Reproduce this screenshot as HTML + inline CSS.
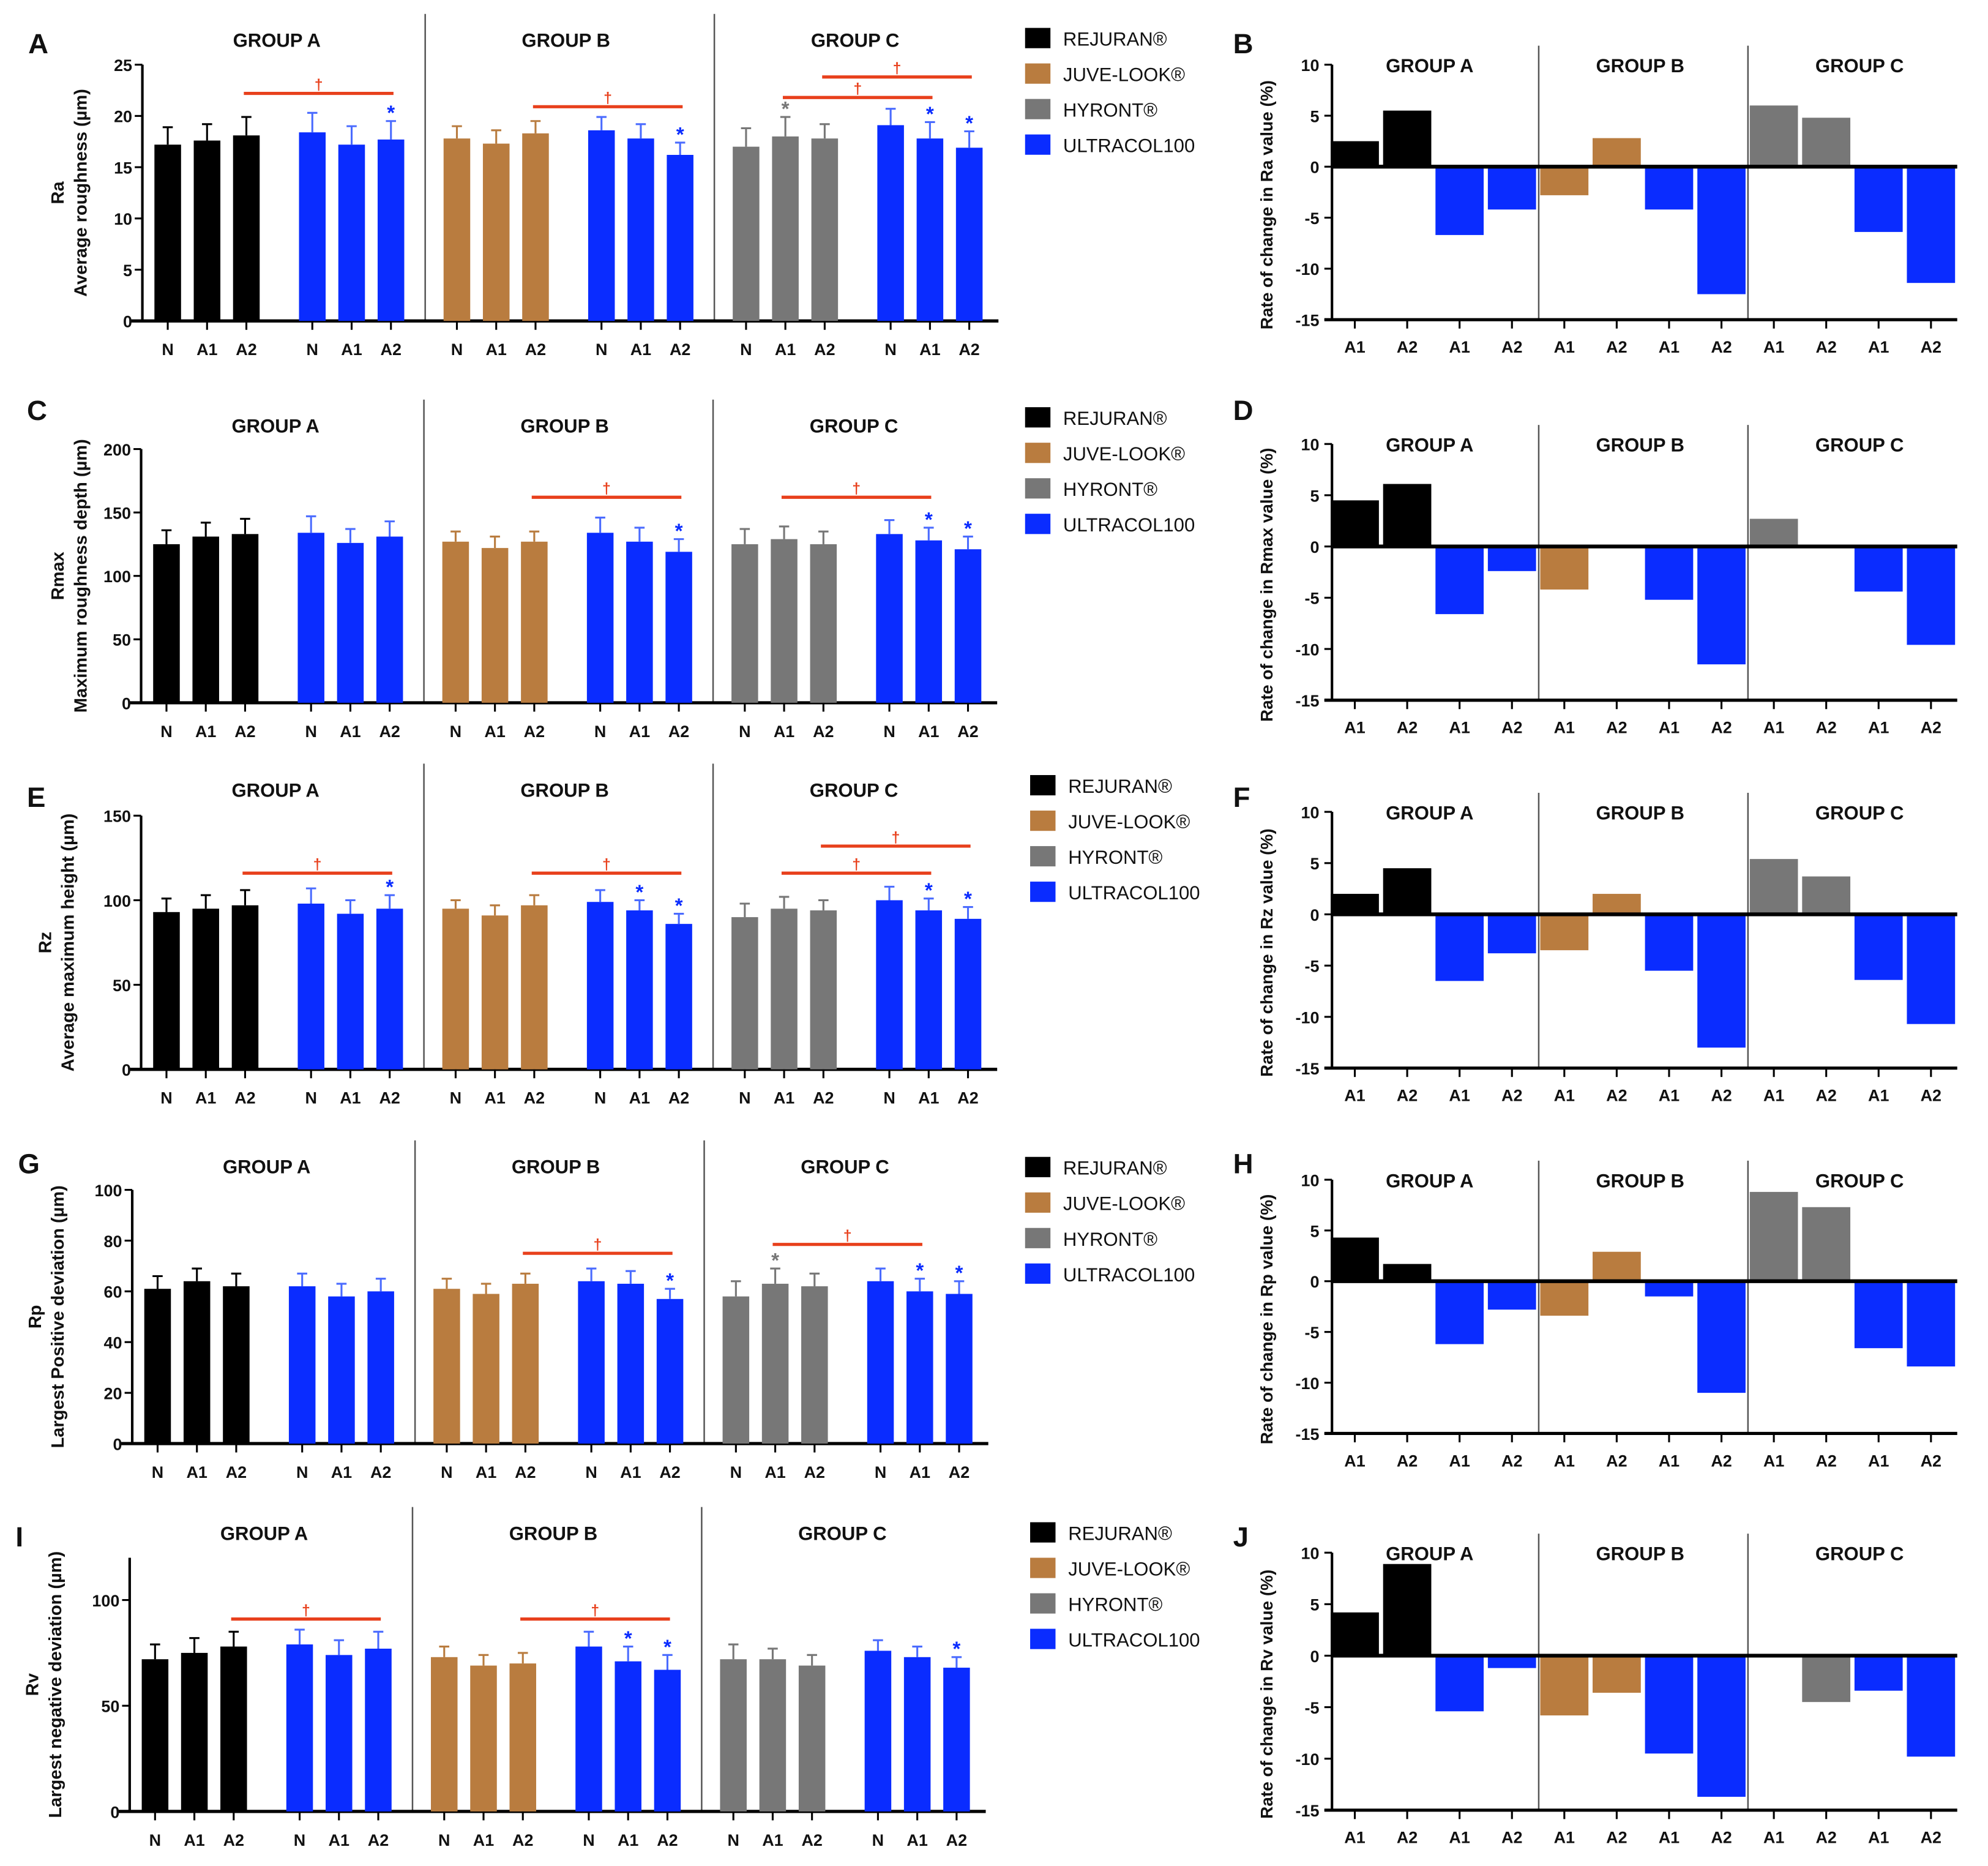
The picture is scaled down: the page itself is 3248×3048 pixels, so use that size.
<!DOCTYPE html>
<html><head><meta charset="utf-8"><style>
html,body{margin:0;padding:0;background:#fff}
svg{display:block}
text{font-family:"Liberation Sans",sans-serif;font-weight:bold;fill:#111}
</style></head><body>
<svg id="fig" width="3248" height="3048" viewBox="0 0 1567 1471" xmlns="http://www.w3.org/2000/svg"></svg>
<script>
const categories = ["N","A1","A2","N","A1","A2","N","A1","A2","N","A1","A2","N","A1","A2","N","A1","A2"];
const rateCategories = ["A1","A2","A1","A2","A1","A2","A1","A2","A1","A2","A1","A2"];
const groupNames = ["GROUP A","GROUP B","GROUP C"];
const legendLabels = ["REJURAN®","JUVE-LOOK®","HYRONT®","ULTRACOL100"];
const raValues = [17.2,17.6,18.1,18.4,17.2,17.7,17.8,17.3,18.3,18.6,17.8,16.2,17.0,18.0,17.8,19.1,17.8,16.9];
const raErrors = [1.7,1.6,1.8,1.9,1.8,1.8,1.2,1.3,1.2,1.3,1.4,1.2,1.8,1.9,1.4,1.6,1.6,1.6];
const rmaxValues = [125,131,133,134,126,131,127,122,127,134,127,119,125,129,125,133,128,121];
const rmaxErrors = [11,11,12,13,11,12,8,9,8,12,11,10,12,10,10,11,10,10];
const rzValues = [93,95,97,98,92,95,95,91,97,99,94,86,90,95,94,100,94,89];
const rzErrors = [8,8,9,9,8,8,5,6,6,7,6,6,8,7,6,8,7,7];
const rpValues = [61,64,62,62,58,60,61,59,63,64,63,57,58,63,62,64,60,59];
const rpErrors = [5,5,5,5,5,5,4,4,4,5,5,4,6,6,5,5,5,5];
const rvValues = [72,75,78,79,74,77,73,69,70,78,71,67,72,72,69,76,73,68];
const rvErrors = [7,7,7,7,7,8,5,5,5,7,7,7,7,5,5,5,5,5];
const raRate = [2.5,5.5,-6.7,-4.2,-2.8,2.8,-4.2,-12.5,6.0,4.8,-6.4,-11.4];
const rmaxRate = [4.5,6.1,-6.6,-2.4,-4.2,0,-5.2,-11.5,2.7,0,-4.4,-9.6];
const rzRate = [2.0,4.5,-6.5,-3.8,-3.5,2.0,-5.5,-13.0,5.4,3.7,-6.4,-10.7];
const rpRate = [4.3,1.7,-6.2,-2.8,-3.4,2.9,-1.5,-11.0,8.8,7.3,-6.6,-8.4];
const rvRate = [4.2,8.9,-5.4,-1.2,-5.8,-3.6,-9.5,-13.7,0,-4.5,-3.4,-9.8];
const rateTicks = [10,5,0,-5,-10,-15];

const C = {k:"#000000", br:"#b97c3f", g:"#777777", b:"#0a2cff"};
const barColors = [C.k,C.k,C.k,C.b,C.b,C.b,C.br,C.br,C.br,C.b,C.b,C.b,C.g,C.g,C.g,C.b,C.b,C.b];
const rateColors = [C.k,C.k,C.b,C.b,C.br,C.br,C.b,C.b,C.g,C.g,C.b,C.b];
const NS="http://www.w3.org/2000/svg";
const svg=document.getElementById("fig");
function el(tag,attrs,parent){const e=document.createElementNS(NS,tag);for(const k in attrs)e.setAttribute(k,attrs[k]);(parent||svg).appendChild(e);return e;}
function txt(s,x,y,size,anchor,parent,extra){const t=el("text",Object.assign({x:x,y:y,"font-size":size,"text-anchor":anchor||"middle"},extra||{}),parent);t.textContent=s;return t;}

function leftPanel(o){
  const g=el("g",{});
  
  
  const y=v=>o.y0-(v/o.max)*(o.y0-o.yTop);
  const bx=i=>o.x0+Math.floor(i/3)*114+(i%3)*31;
  const ax=o.x0-20;
  txt(o.letter,o.x0-110,o.letterY,22,"start",g);
  [o.x0+203,o.x0+431].forEach(dx=>el("line",{x1:dx,y1:o.titleY-20,x2:dx,y2:o.y0,stroke:"#555","stroke-width":1.2},g));
  groupNames.forEach((n,i)=>{const t=txt(n,o.x0+86+i*228,o.titleY+6,15,"middle",g);});
  el("line",{x1:ax,y1:o.yTop,x2:ax,y2:o.y0+1,stroke:"#000","stroke-width":2},g);
  el("line",{x1:ax-10,y1:o.y0,x2:o.x0+655,y2:o.y0,stroke:"#000","stroke-width":2.5},g);
  o.ticks.forEach(v=>{el("line",{x1:ax-6,y1:y(v),x2:ax,y2:y(v),stroke:"#000","stroke-width":1.5},g);txt(String(v),ax-8,y(v)+5,13,"end",g);});
  txt(o.t1,o.tx,(o.y0+o.yTop)/2,14,"middle",g,{transform:`rotate(-90 ${o.tx} ${(o.y0+o.yTop)/2})`});
  txt(o.t2,o.tx+18,(o.y0+o.yTop)/2,14,"middle",g,{transform:`rotate(-90 ${o.tx+18} ${(o.y0+o.yTop)/2})`});
  o.vals.forEach((v,i)=>{
    const x=bx(i),c=barColors[i],top=y(v),et=y(v+o.errs[i]);
    const r=el("rect",{x:x-10.5,y:top,width:21,height:o.y0-top,fill:c},g);
    
    
    const ec=c===C.b?"#4a6bff":c;
    el("line",{x1:x,y1:top,x2:x,y2:et,stroke:ec,"stroke-width":1.5},g);
    el("line",{x1:x-4,y1:et,x2:x+4,y2:et,stroke:ec,"stroke-width":1.5},g);
    el("line",{x1:x,y1:o.y0,x2:x,y2:o.y0+7,stroke:"#000","stroke-width":1.5},g);
    txt(categories[i],x,o.y0+27,13,"middle",g);
    if(o.stars.includes(i)){txt("*",x,et-1,16,"middle",g,{style:"fill:"+(c===C.b?C.b:"#777")});}
  });
  o.brackets.forEach(b=>{const x1=bx(b[0])-2,x2=bx(b[1])+2,by=y(b[2]);
    el("line",{x1:x1,y1:by,x2:x2,y2:by,stroke:"#e8401c","stroke-width":2.5},g);
    txt("†",(x1+x2)/2,by-3,12,"middle",g,{style:"fill:#e8401c"});});
  legendLabels.forEach((l,i)=>{const ly=o.legY+i*28;
    const r=el("rect",{x:o.legX,y:ly-8,width:20,height:16,fill:[C.k,C.br,C.g,C.b][i]},g);
    
    const t=txt(l,o.legX+30,ly+6,15,"start",g,{style:"font-weight:normal"});
    });
}
function ratePanel(o){
  const g=el("g",{});
  
  
  const y=v=>o.yTop+(10-v)/25*(o.yBot-o.yTop);
  const bx=i=>1068+i*41.3;
  txt(o.letter,972,o.letterY,22,"start",g);
  [1213,1378].forEach(dx=>el("line",{x1:dx,y1:o.yTop-15,x2:dx,y2:o.yBot,stroke:"#555","stroke-width":1.2},g));
  [1127,1293,1466].forEach((x,i)=>{const t=txt(groupNames[i],x,o.yTop+6,15,"middle",g);});
  o.vals.forEach((v,i)=>{const x=bx(i),y0=y(0),yv=y(v);
    const r=el("rect",{x:x-19,y:Math.min(y0,yv),width:38,height:Math.abs(yv-y0),fill:rateColors[i]},g);
    
    
    el("line",{x1:x,y1:o.yBot,x2:x,y2:o.yBot+7,stroke:"#000","stroke-width":1.5},g);
    txt(rateCategories[i],x,o.yBot+26,13,"middle",g);});
  el("line",{x1:1050,y1:o.yTop,x2:1050,y2:o.yBot,stroke:"#000","stroke-width":2},g);
  el("line",{x1:1050,y1:y(0),x2:1543,y2:y(0),stroke:"#000","stroke-width":3},g);
  el("line",{x1:1044,y1:o.yBot,x2:1543,y2:o.yBot,stroke:"#000","stroke-width":2.5},g);
  rateTicks.forEach(v=>{el("line",{x1:1044,y1:y(v),x2:1050,y2:y(v),stroke:"#000","stroke-width":1.5},g);txt(String(v),1040,y(v)+5,13,"end",g);});
  const cy=(o.yTop+o.yBot)/2+10;
  txt(o.title,1003,cy,13.5,"middle",g,{transform:`rotate(-90 1003 ${cy})`});
}
leftPanel({name:"panel-a-ra",letter:"A",letterY:42,x0:132,y0:253,yTop:51,max:25,ticks:[0,5,10,15,20,25],titleY:31,tx:50,t1:"Ra",t2:"Average roughness  (µm)",vals:raValues,errs:raErrors,stars:[5,11,13,16,17],brackets:[[2,5,22.2],[8,11,20.9],[13,16,21.8],[14,17,23.8]],legX:808,legY:30});
ratePanel({name:"panel-b-ra-rate",letter:"B",letterY:42,yTop:51,yBot:252,vals:raRate,title:"Rate of change in Ra value (%)"});
leftPanel({name:"panel-c-rmax",letter:"C",letterY:331,x0:131,y0:554,yTop:354,max:200,ticks:[0,50,100,150,200],titleY:335,tx:50,t1:"Rmax",t2:"Maximum roughness depth  (µm)",vals:rmaxValues,errs:rmaxErrors,stars:[11,16,17],brackets:[[8,11,162],[13,16,162]],legX:808,legY:329});
ratePanel({name:"panel-d-rmax-rate",letter:"D",letterY:331,yTop:350,yBot:552,vals:rmaxRate,title:"Rate of change in Rmax value (%)"});
leftPanel({name:"panel-e-rz",letter:"E",letterY:636,x0:131,y0:843,yTop:643,max:150,ticks:[0,50,100,150],titleY:622,tx:40,t1:"Rz",t2:"Average maximum height (µm)",vals:rzValues,errs:rzErrors,stars:[5,10,11,16,17],brackets:[[2,5,116],[8,11,116],[13,16,116],[14,17,132]],legX:812,legY:619});
ratePanel({name:"panel-f-rz-rate",letter:"F",letterY:636,yTop:640,yBot:842,vals:rzRate,title:"Rate of change in Rz value (%)"});
leftPanel({name:"panel-g-rp",letter:"G",letterY:925,x0:124,y0:1138,yTop:938,max:100,ticks:[0,20,40,60,80,100],titleY:919,tx:32,t1:"Rp",t2:"Largest Positive deviation (µm)",vals:rpValues,errs:rpErrors,stars:[11,13,16,17],brackets:[[8,11,75],[13,16,78.5]],legX:808,legY:920});
ratePanel({name:"panel-h-rp-rate",letter:"H",letterY:925,yTop:930,yBot:1130,vals:rpRate,title:"Rate of change in Rp value (%)"});
leftPanel({name:"panel-i-rv",letter:"I",letterY:1219,x0:122,y0:1428,yTop:1228,max:120,ticks:[0,50,100],titleY:1208,tx:30,t1:"Rv",t2:"Largest negative deviation (µm)",vals:rvValues,errs:rvErrors,stars:[10,11,17],brackets:[[2,5,91],[8,11,91]],legX:812,legY:1208});
ratePanel({name:"panel-j-rv-rate",letter:"J",letterY:1219,yTop:1224,yBot:1427,vals:rvRate,title:"Rate of change in Rv value (%)"});
</script>
</body></html>
